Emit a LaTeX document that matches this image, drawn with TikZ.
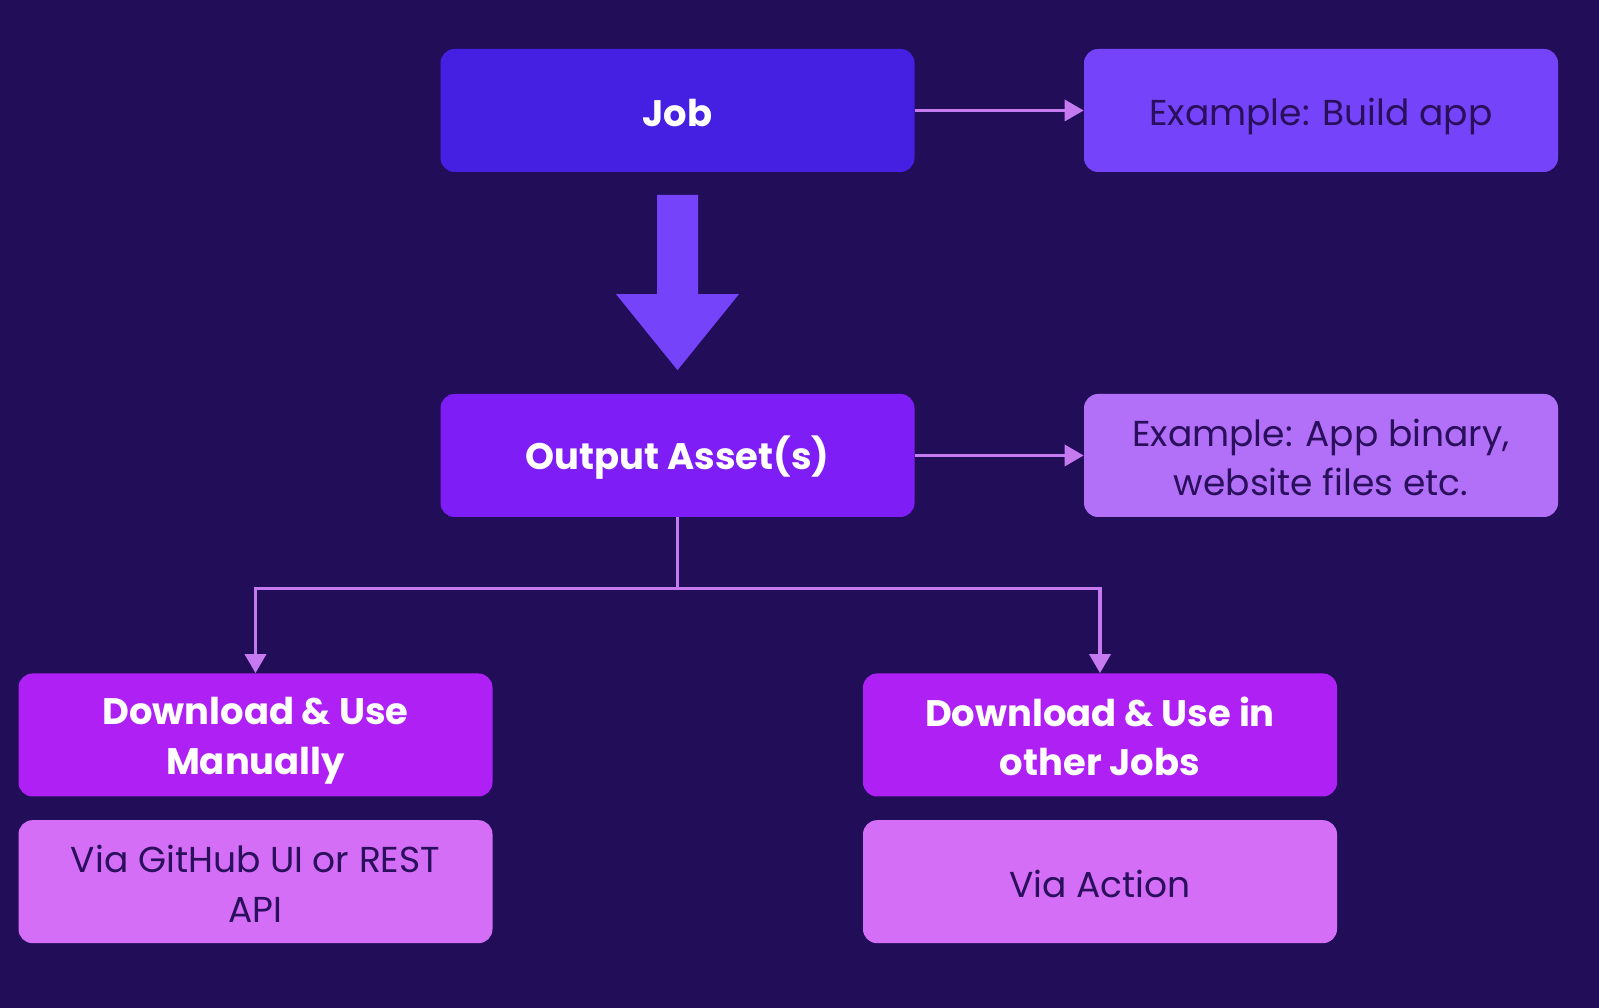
\documentclass[tikz,border=0pt]{standalone}
\usepackage{fontspec}
\setmainfont{Poppins}
\definecolor{bgdark}{RGB}{34, 13, 89}
\definecolor{jobblue}{RGB}{69, 31, 226}
\definecolor{exviolet}{RGB}{117, 68, 250}
\definecolor{outpurple}{RGB}{126, 29, 246}
\definecolor{exlilac}{RGB}{178, 111, 248}
\definecolor{dlmagenta}{RGB}{174, 32, 244}
\definecolor{vialilac}{RGB}{213, 110, 246}
\definecolor{linklilac}{RGB}{198, 122, 240}
\definecolor{textdark}{RGB}{42, 15, 92}
\usetikzlibrary{arrows.meta, positioning, calc}
\newcommand\boxstrut{\rule[-4pt]{0pt}{26pt}}
\newcommand\tallstrut{\rule[-4pt]{0pt}{54pt}}

\tikzset{
  box/.style={rounded corners=8pt, minimum width=9.48cm, minimum height=2.46cm,
    align=center, inner sep=0pt, execute at begin node=\boxstrut, execute at end node=\boxstrut},
  twoline/.style={execute at begin node=\tallstrut},
  headbox/.style={box, text=white, font=\fontsize{21}{28}\selectfont\bfseries},
  notebox/.style={box, text=textdark, font=\fontsize{20.5}{28}\selectfont},
  link/.style={draw=linklilac, line width=2pt, -{Triangle[length=0.38cm, width=0.42cm]}},
}

\begin{document}
\begin{tikzpicture}
  \fill[bgdark] (0,0) rectangle (31.98,20.16);
  \useasboundingbox (0,0) rectangle (31.98,20.16);

  % top row
  \node[headbox, fill=jobblue] (job) at (13.55,17.95) {Job};
  \node[notebox, fill=exviolet] (exbuild) at (26.42,17.95) {Example: Build app};

  % middle row
  \node[headbox, fill=outpurple] (output) at (13.55,11.05) {Output Asset(s)};
  \node[notebox, twoline, fill=exlilac] (exbinary) at (26.42,11.05) {Example: App binary,\\website files etc.};

  % bottom row
  \node[headbox, twoline, fill=dlmagenta] (dlmanual) at (5.11,5.46) {Download \& Use\\Manually};
  \node[notebox, twoline, fill=vialilac, below=0.46cm of dlmanual] (viagithub) {Via GitHub UI or REST\\API};
  \node[headbox, twoline, fill=dlmagenta] (dlothers) at (22.0,5.46) {Download \& Use in\\other Jobs};
  \node[notebox, fill=vialilac, below=0.46cm of dlothers] (viaaction) {Via Action};

  % fat arrow job -> output
  \fill[exviolet] ($(job.south)+(-0.41,-0.45)$) -- ($(job.south)+(0.41,-0.45)$)
    -- ($(output.north)+(0.41,1.99)$) -- ($(output.north)+(1.23,1.99)$)
    -- ($(output.north)+(0,0.47)$) -- ($(output.north)+(-1.23,1.99)$)
    -- ($(output.north)+(-0.41,1.99)$) -- cycle;

  \draw[link] (job.east) -- (exbuild.west);
  \draw[link] (output.east) -- (exbinary.west);
  \draw[link] (output.south) -- ++(0,-1.42) -| (dlmanual.north);
  \draw[link] (output.south) -- ++(0,-1.42) -| (dlothers.north);
\end{tikzpicture}
\end{document}
